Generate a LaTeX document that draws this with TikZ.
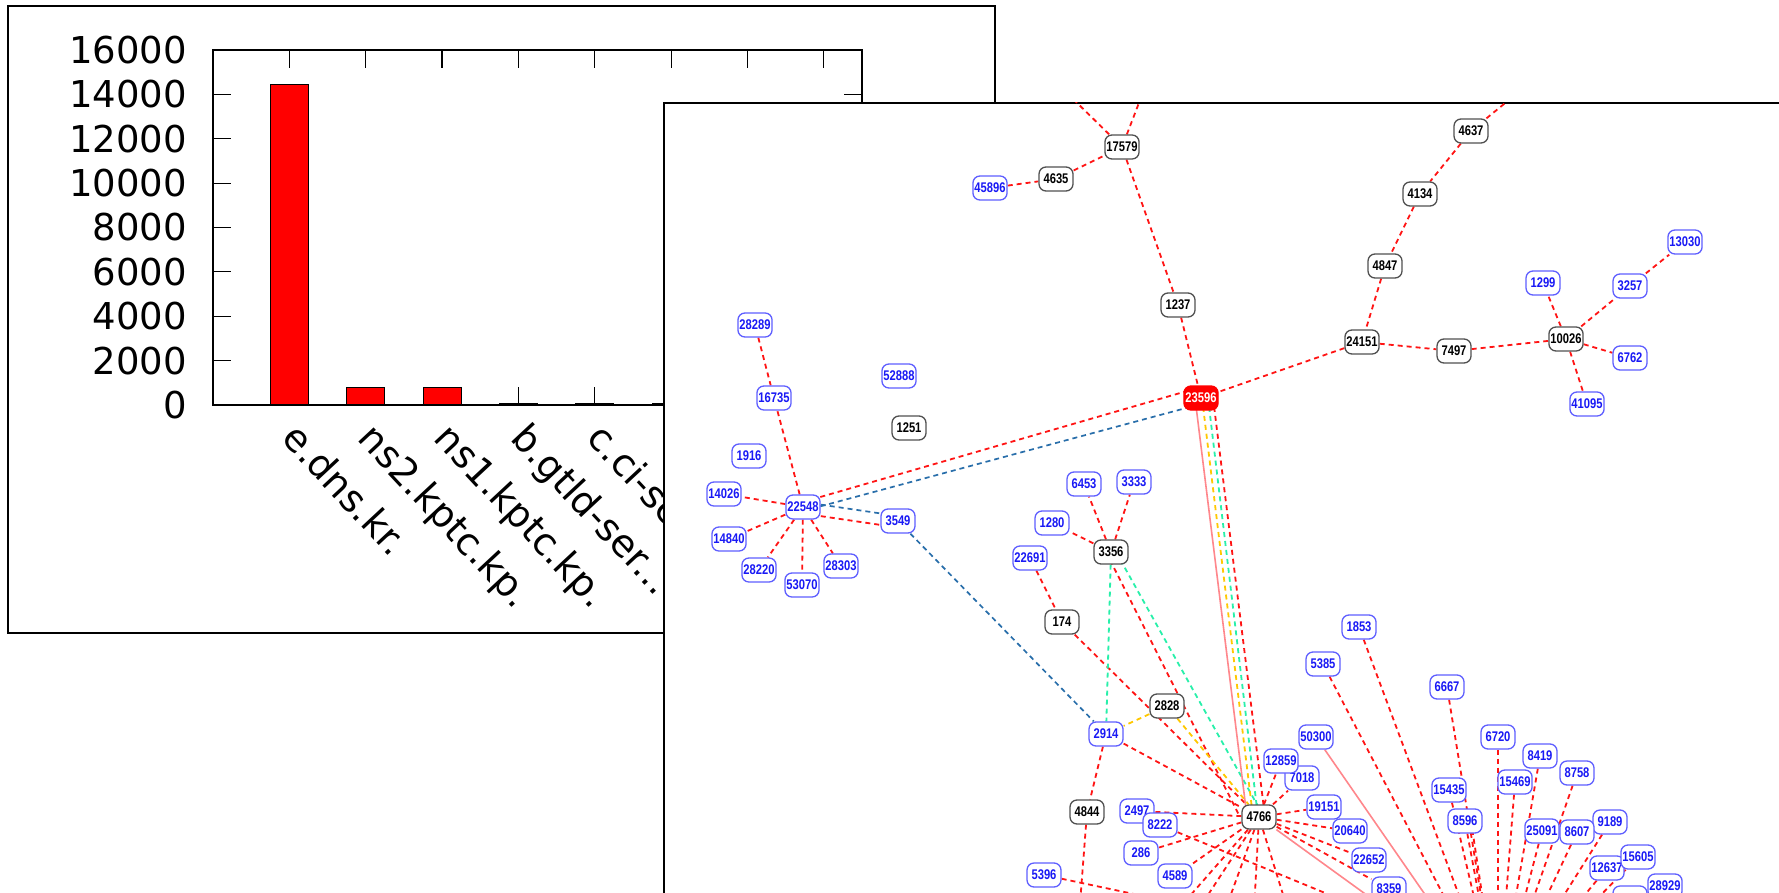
\documentclass[tikz,border=0pt]{standalone}
\usepackage{fontspec}
\setmainfont{DejaVu Sans}
\newfontfamily\asfont[FakeStretch=0.8]{Liberation Sans}
\newcommand\tdots{...}
\definecolor{nodeblue}{RGB}{95,95,255}
\definecolor{textblue}{RGB}{25,25,245}
\definecolor{nodegray}{RGB}{80,80,80}
\definecolor{linkred}{RGB}{255,20,20}
\definecolor{linkblue}{RGB}{40,110,170}
\definecolor{linkgreen}{RGB}{40,240,170}
\definecolor{linkyellow}{RGB}{255,200,0}
\definecolor{linkpink}{RGB}{255,135,140}
\pgfdeclarelayer{back}
\pgfdeclarelayer{links}
\pgfsetlayers{back,links,main}
\begin{document}
\begin{tikzpicture}[x=1pt,y=-1pt,
  asbox/.style={draw,rounded corners=7pt,fill=white,line width=1.3pt,minimum width=34pt,minimum height=24pt,inner sep=1.5pt,font=\asfont\bfseries\fontsize{14}{14}\selectfont},
  bl/.style={asbox,draw=nodeblue,text=textblue},
  bk/.style={asbox,draw=nodegray,text=black},
  rd/.style={asbox,draw=red,fill=red,text=white},
  rl/.style={draw=linkred,dash pattern=on 5pt off 4pt,line width=1.8pt},
  bll/.style={draw=linkblue,dash pattern=on 5pt off 4pt,line width=1.7pt},
  gl/.style={draw=linkgreen,dash pattern=on 5pt off 4pt,line width=1.8pt},
  yl/.style={draw=linkyellow,dash pattern=on 5pt off 4pt,line width=1.8pt},
  pl/.style={draw=linkpink,line width=1.6pt},
  chart/.style={font=\fontsize{37}{40}\selectfont,inner sep=0}]
\useasboundingbox (0,0) rectangle (1779,893);
\begin{pgfonlayer}{back}
\fill[white] (0,0) rectangle (1779,893);
\draw[line width=2pt] (8,6) rectangle (995,633);
\foreach \v [count=\i from 0] in {0,2000,4000,6000,8000,10000,12000,14000,16000} {
  \draw[line width=1.2pt] (213,{405-44.375*\i}) -- ++(18,0);
  \draw[line width=1.2pt] (862,{405-44.375*\i}) -- ++(-18,0);
  \node[chart,anchor=east] at (187,{405-44.375*\i}) {\v};
}
\foreach \k in {1,...,8} {
  \draw[line width=1.2pt] ({213+76.35*\k},50) -- ++(0,18);
  \draw[line width=1.2pt] ({213+76.35*\k},405) -- ++(0,-18);
}
\foreach \h [count=\k] in {14430,770,770,80,80,80,80,80}
  \filldraw[fill=red,draw=black,line width=1pt] ({213+76.35*\k-19},405) rectangle ({213+76.35*\k+19},{405-\h*0.0221875});
\draw[line width=1.5pt] (213,50) rectangle (862,405);
\foreach \lab [count=\k] in {e.dns.kr.,ns2.kptc.kp.,ns1.kptc.kp.,b.gtld-ser\tdots,c.ci-se}
  \node[chart,font=\fontsize{38}{40}\selectfont,anchor=north west,rotate=-47] at ({225+76.35*\k},420) {\lab};
\fill[white] (664,103) rectangle (1779,893);
\draw[line width=2.5pt] (664,900) -- (664,103) -- (1785,103);
\end{pgfonlayer}
\node[bl] (n45896) at (990,188) {45896};
\node[bk] (n4635) at (1056,179) {4635};
\node[bk] (n17579) at (1122,147) {17579};
\node[bk] (n1237) at (1178,305) {1237};
\node[bk] (n4637) at (1471,131) {4637};
\node[bk] (n4134) at (1420,194) {4134};
\node[bk] (n4847) at (1385,266) {4847};
\node[bk] (n24151) at (1362,342) {24151};
\node[bk] (n7497) at (1454,351) {7497};
\node[bk] (n10026) at (1566,339) {10026};
\node[bl] (n1299) at (1543,283) {1299};
\node[bl] (n3257) at (1630,286) {3257};
\node[bl] (n13030) at (1685,242) {13030};
\node[bl] (n6762) at (1630,358) {6762};
\node[bl] (n41095) at (1587,404) {41095};
\node[bl] (n28289) at (755,325) {28289};
\node[bl] (n52888) at (899,376) {52888};
\node[bl] (n16735) at (774,398) {16735};
\node[bk] (n1251) at (909,428) {1251};
\node[bl] (n1916) at (749,456) {1916};
\node[bl] (n14026) at (724,494) {14026};
\node[bl] (n22548) at (803,507) {22548};
\node[bl] (n3549) at (898,521) {3549};
\node[bl] (n14840) at (729,539) {14840};
\node[bl] (n28220) at (759,570) {28220};
\node[bl] (n53070) at (802,585) {53070};
\node[bl] (n28303) at (841,566) {28303};
\node[bl] (n6453) at (1084,484) {6453};
\node[bl] (n3333) at (1134,482) {3333};
\node[bl] (n1280) at (1052,523) {1280};
\node[bk] (n3356) at (1111,552) {3356};
\node[bl] (n22691) at (1030,558) {22691};
\node[bk] (n174) at (1062,622) {174};
\node[bk] (n2828) at (1167,706) {2828};
\node[bl] (n2914) at (1106,734) {2914};
\node[bk] (n4844) at (1087,812) {4844};
\node[bl] (n2497) at (1137,811) {2497};
\node[bl] (n8222) at (1160,825) {8222};
\node[bl] (n286) at (1141,853) {286};
\node[bl] (n5396) at (1044,875) {5396};
\node[bl] (n4589) at (1175,876) {4589};
\node[bl] (n1853) at (1359,627) {1853};
\node[bl] (n5385) at (1323,664) {5385};
\node[bl] (n6667) at (1447,687) {6667};
\node[bl] (n50300) at (1316,737) {50300};
\node[bl] (n6720) at (1498,737) {6720};
\node[bl] (n7018) at (1302,778) {7018};
\node[bl] (n12859) at (1281,761) {12859};
\node[bl] (n8419) at (1540,756) {8419};
\node[bl] (n8758) at (1577,773) {8758};
\node[bl] (n15435) at (1449,790) {15435};
\node[bl] (n15469) at (1515,782) {15469};
\node[bk] (n4766) at (1259,817) {4766};
\node[bl] (n19151) at (1324,807) {19151};
\node[bl] (n8596) at (1465,821) {8596};
\node[bl] (n9189) at (1610,822) {9189};
\node[bl] (n20640) at (1350,831) {20640};
\node[bl] (n25091) at (1542,831) {25091};
\node[bl] (n8607) at (1577,832) {8607};
\node[bl] (n12637) at (1607,868) {12637};
\node[bl] (n15605) at (1638,857) {15605};
\node[bl] (n22652) at (1369,860) {22652};
\node[bl] (n8359) at (1389,889) {8359};
\node[bl] (n28929) at (1665,886) {28929};
\node[bl] (nlow) at (1630,898) {};
\node[rd] (n23596) at (1201,398) {23596};
\coordinate (up1) at (1069,95);
\coordinate (up2) at (1142,95);
\coordinate (up3) at (1515,95);
\coordinate (hub) at (1498,1000);
\coordinate (low) at (1415,930);
\coordinate (d4844) at (1078,930);
\coordinate (d5396) at (1304,930);
\begin{pgfonlayer}{links}
\begin{scope}
\clip (664,103) rectangle (1779,893);
\draw[rl] (n17579) -- (up1);
\draw[rl] (n17579) -- (up2);
\draw[rl] (n4637) -- (up3);
\draw[rl] (n45896) -- (n4635);
\draw[rl] (n4635) -- (n17579);
\draw[rl] (n17579) -- (n1237);
\draw[rl] (n1237) -- (n23596);
\draw[rl] (n4637) -- (n4134);
\draw[rl] (n4134) -- (n4847);
\draw[rl] (n4847) -- (n24151);
\draw[rl] (n24151) -- (n23596);
\draw[rl] (n24151) -- (n7497);
\draw[rl] (n7497) -- (n10026);
\foreach \m in {1299,3257,6762,41095} \draw[rl] (n10026) -- (n\m);
\draw[rl] (n3257) -- (n13030);
\draw[rl] (n28289) -- (n16735);
\foreach \m in {16735,14026,14840,28220,53070,28303} \draw[rl] (n22548) -- (n\m);
\draw[rl] ([yshift=5pt]n22548.center) -- ([yshift=11pt]n23596.center);
\draw[bll] ([yshift=-4pt]n22548.center) -- ([yshift=-6pt]n23596.center);
\draw[bll] ([yshift=5pt]n22548.center) -- ([yshift=5pt]n3549.center);
\draw[rl] ([yshift=-6.5pt]n22548.center) -- ([yshift=-6.5pt]n3549.center);
\draw[bll] (n3549) -- (n2914);
\foreach \m in {6453,3333,1280} \draw[rl] (n3356) -- (n\m);
\draw[rl] (n22691) -- (n174);
\draw[rl] (n174) -- (n4766);
\draw[rl] ([xshift=-5pt]n3356.center) -- ([xshift=-19pt]n4766.center);
\draw[gl] ([xshift=5pt]n3356.center) -- ([xshift=5pt]n4766.center);
\draw[gl] (n3356) -- (n2914);
\draw[yl] (n2828) -- (n2914);
\draw[yl] (n2828) -- (n4766);
\draw[rl] (n2914) -- (n4766);
\draw[rl] (n2914) -- (n4844);
\draw[rl] (n4844) -- (d4844);
\draw[rl] (n5396) -- (d5396);
\draw[rl] (n8222) -- (low);
\draw[pl] (n4766) -- (low);
\draw[pl] ([xshift=-6pt]n23596.center) -- ([xshift=-12pt]n4766.center);
\draw[yl] ([xshift=1pt]n23596.center) -- ([xshift=-6pt]n4766.center);
\draw[gl] ([xshift=7pt]n23596.center) -- ([xshift=-1pt]n4766.center);
\draw[rl] ([xshift=12pt]n23596.center) -- ([xshift=6pt]n4766.center);
\foreach \m in {2497,286,4589,12859,7018,19151,20640,22652,8359} \draw[rl] (n4766) -- (n\m);
\foreach \dx in {-99,-74,-41,-6,35} \draw[rl] (n4766) -- ++(\dx,113);
\draw[pl] (n50300) -- (hub);
\foreach \m in {1853,5385,6667,15435,8596,6720,15469,8419,25091,8758,8607,9189,12637,15605} \draw[rl] (n\m) -- (hub);
\draw[rl] ([xshift=6pt]n8596.center) -- (hub);
\end{scope}
\end{pgfonlayer}
\end{tikzpicture}
\end{document}
